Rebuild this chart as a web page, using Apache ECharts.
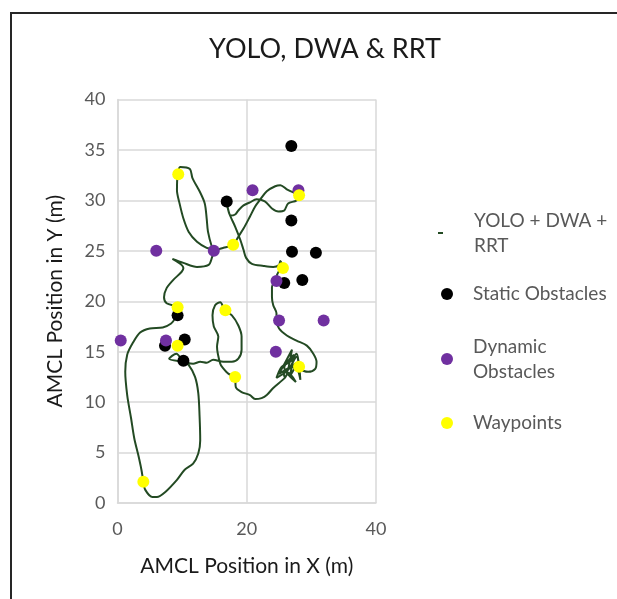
<!DOCTYPE html>
<html>
<head>
<meta charset="utf-8">
<script src="https://cdn.jsdelivr.net/npm/echarts@6/dist/echarts.min.js"></script>
<style>html,body{margin:0;padding:0;background:#fff;}#c{width:617px;height:599px;}</style>
</head>
<body>
<div id="c"></div>
<script>
// Robot path (AMCL position, m)
var pathX = [4.0,3.7,3.2,2.6,2.1,1.5,1.2,1.5,2.4,3.5,5.0,7.0,8.3,8.9,9.2,9.3,7.6,7.2,7.6,8.6,9.9,10.2,8.5,10.2,12.3,14.1,14.6,14.9,13.8,12.3,11.0,10.2,9.6,9.2,9.3,9.7,11.2,11.6,12.7,13.5,13.8,14.0,14.6,14.9,16.4,17.9,18.7,19.5,20.5,21.3,22.1,23.1,24.4,25.2,26.2,27.2,28.1,27.7,26.4,25.8,24.9,23.9,22.8,21.5,20.5,19.5,18.7,18.2,17.5,17.0,16.9,17.3,18.2,19.0,19.5,19.9,20.8,22.6,24.1,25.0,25.2,25.6,24.9,24.4,23.9,23.9,24.1,24.6,24.6,25.0,26.2,27.7,29.3,30.3,30.8,30.6,29.5,28.3,27.7,26.7,25.4,24.6,26.4,27.7,28.3,27.5,25.7,25.9,27.0,25.0,28.0,26.7,27.3,25.8,27.6,26.4,25.9,24.1,23.1,22.3,21.3,20.5,19.2,18.3,18.2,17.2,16.3,15.9,15.4,15.6,14.9,14.7,15.1,15.9,16.6,17.7,18.7,19.2,19.2,18.7,17.7,16.4,14.8,13.8,12.8,11.7,10.2,8.0,9.1,10.2,11.0,12.0,12.5,12.7,12.8,12.5,11.7,10.4,9.2,7.4,6.1,5.4,4.3,4.0];
var pathY = [2.1,3.3,4.8,6.4,8.4,10.7,13.0,14.7,15.9,16.9,17.3,17.4,17.8,18.3,18.9,19.4,19.8,20.4,21.3,22.1,22.9,23.3,24.2,23.8,23.4,23.6,24.3,25.1,25.3,25.9,26.9,28.2,29.7,31.0,32.5,33.3,33.1,32.2,30.9,29.7,28.2,26.9,25.4,25.1,25.3,25.6,26.4,27.2,28.4,29.4,30.1,30.9,31.4,31.5,31.1,30.8,30.6,30.0,29.7,29.0,28.9,29.2,29.9,30.1,29.8,29.5,29.0,28.6,28.5,29.4,29.8,28.7,27.4,26.1,25.1,24.3,23.7,23.5,23.4,23.6,24.0,23.3,22.9,22.1,21.4,20.4,19.6,18.8,18.1,17.3,16.6,16.1,15.6,14.8,14.0,13.3,13.0,13.3,14.8,14.0,13.5,12.4,13.2,14.5,12.2,13.5,13.0,12.4,15.2,12.8,14.0,12.6,14.7,13.4,12.0,12.9,12.4,11.4,10.7,10.4,10.3,10.7,11.0,11.5,12.5,12.8,13.4,13.8,15.5,16.5,17.5,18.6,19.6,19.9,19.1,18.6,17.6,16.5,15.2,14.3,14.0,14.0,14.2,13.9,14.0,13.8,14.0,14.3,14.8,14.0,13.7,12.5,10.9,8.6,6.2,4.9,3.9,3.3,2.3,1.1,0.6,0.6,1.3,2.1];

var staticX = [26.9,16.9,26.9,27.0,30.7,28.6,25.8,9.3,10.4,7.35,10.2];
var staticY = [35.4,29.9,28.0,24.9,24.8,22.1,21.8,18.6,16.2,15.6,14.1];

var dynamicX = [20.9,28.0,6.0,14.9,24.6,25.0,31.9,0.5,7.5,24.5];
var dynamicY = [31.0,31.0,25.0,25.0,22.0,18.1,18.1,16.1,16.1,15.0];

var waypointX = [9.4,28.1,17.9,25.6,9.3,16.7,9.3,18.2,28.1,4.0];
var waypointY = [32.6,30.5,25.6,23.3,19.4,19.1,15.6,12.5,13.5,2.1];

var seriesNames = ['YOLO + DWA + RRT','Static Obstacles','Dynamic Obstacles','Waypoints'];
var xTicks = {min:0, max:40, interval:20};
var yTicks = {min:0, max:40, interval:5};

function pairs(xs, ys){ return xs.map(function(x,i){ return [x, ys[i]]; }); }

var FONT = 'Lato, "Open Sans", sans-serif';
var chart = echarts.init(document.getElementById('c'), null, {renderer:'canvas'});

function legendFor(name, top, left, itemWidth, itemHeight, pad, icon){
  var l = {
    data:[name], orient:'vertical', left:left, top:top, padding:0,
    itemWidth:itemWidth, itemHeight:itemHeight, selectedMode:false,
    formatter: function(n){
      if(n==='YOLO + DWA + RRT') return 'YOLO + DWA +\nRRT';
      if(n==='Dynamic Obstacles') return 'Dynamic\nObstacles';
      return n;
    },
    textStyle:{fontFamily:FONT, fontSize:19, color:'#595959', lineHeight:25, padding:pad}
  };
  if(icon) l.icon = icon;
  return l;
}

chart.setOption({
  animation:false,
  backgroundColor:'#fff',
  title:{
    text:'YOLO, DWA & RRT', left:320, top:31, textAlign:'center',
    textStyle:{fontFamily:FONT, fontSize:27, fontWeight:'normal', color:'#1a1a1a'}
  },
  graphic:[{type:'rect', shape:{x:11,y:13,width:700,height:700}, style:{fill:'none', stroke:'#262626', lineWidth:2}, silent:true}],
  grid:{left:117.5, right:241, top:99.5, bottom:96, containLabel:false},
  legend:[
    legendFor(seriesNames[0], 195.5, 438, 5, 2, [25,0,0,26], 'rect'),
    legendFor(seriesNames[1], 281.5, 441, 42, 12, 0),
    legendFor(seriesNames[2], 321.5, 441, 42, 12, [25,0,0,0]),
    legendFor(seriesNames[3], 410.5, 441, 42, 12, 0)
  ],
  xAxis:{
    type:'value', min:xTicks.min, max:xTicks.max, interval:xTicks.interval,
    name:'AMCL Position in X (m)', nameLocation:'middle', nameGap:53,
    nameTextStyle:{fontFamily:FONT, fontSize:21, color:'#1a1a1a'},
    axisLine:{show:true, lineStyle:{color:'#d9d9d9', width:1.5}},
    axisTick:{show:false},
    axisLabel:{fontFamily:FONT, fontSize:18, color:'#595959', margin:17},
    splitLine:{show:true, lineStyle:{color:'#d9d9d9', width:1.5}}
  },
  yAxis:{
    type:'value', min:yTicks.min, max:yTicks.max, interval:yTicks.interval,
    name:'AMCL Position in Y (m)', nameLocation:'middle', nameGap:52,
    nameTextStyle:{fontFamily:FONT, fontSize:21, color:'#1a1a1a'},
    axisLine:{show:true, lineStyle:{color:'#d9d9d9', width:1.5}},
    axisTick:{show:false},
    axisLabel:{fontFamily:FONT, fontSize:18, color:'#595959', margin:12},
    splitLine:{show:true, lineStyle:{color:'#d9d9d9', width:1.5}}
  },
  series:[
    {name:seriesNames[0], type:'line', data:pairs(pathX, pathY), symbol:'none', smooth:0.3,
     lineStyle:{color:'#234a23', width:2}, itemStyle:{color:'#234a23'}, z:2},
    {name:seriesNames[1], type:'scatter', data:pairs(staticX, staticY), symbolSize:12, itemStyle:{color:'#000000', opacity:1}, z:3},
    {name:seriesNames[2], type:'scatter', data:pairs(dynamicX, dynamicY), symbolSize:12, itemStyle:{color:'#7030a0', opacity:1}, z:4},
    {name:seriesNames[3], type:'scatter', data:pairs(waypointX, waypointY), symbolSize:12, itemStyle:{color:'#ffff00', opacity:1}, z:5}
  ]
});
</script>
</body>
</html>
